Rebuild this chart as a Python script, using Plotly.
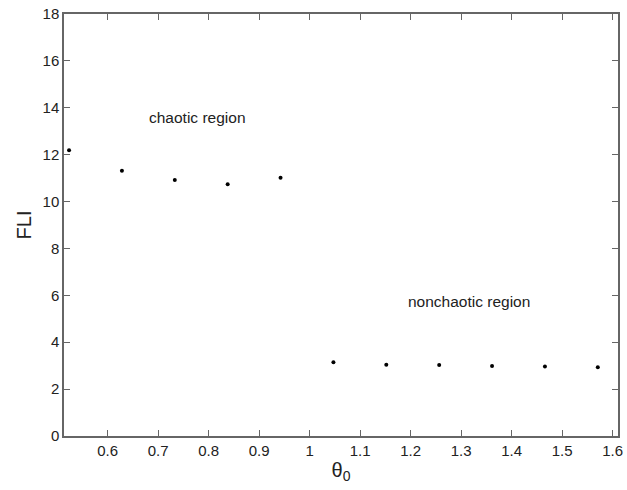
import math
import plotly.graph_objects as go

# initial angle theta_0 (rad) and fast Lyapunov indicator
theta0 = [math.pi / 6 + k * math.pi / 30 for k in range(11)]
fli = [12.19, 11.31, 10.92, 10.74, 11.02, 3.15, 3.04, 3.03, 2.99, 2.96, 2.93]

x_ticks = [0.6, 0.7, 0.8, 0.9, 1.0, 1.1, 1.2, 1.3, 1.4, 1.5, 1.6]
x_tick_text = ["0.6", "0.7", "0.8", "0.9", "1", "1.1", "1.2", "1.3", "1.4", "1.5", "1.6"]
y_ticks = [0, 2, 4, 6, 8, 10, 12, 14, 16, 18]

fig = go.Figure()
fig.add_trace(go.Scatter(
    x=theta0, y=fli, mode="markers",
    marker=dict(color="black", size=4),
    showlegend=False,
))

fig.add_annotation(x=0.777, y=13.57, text="chaotic region", showarrow=False,
                   font=dict(size=15.5, color="#222"))
fig.add_annotation(x=1.315, y=5.72, text="nonchaotic region", showarrow=False,
                   font=dict(size=15.5, color="#222"))

axis_common = dict(
    showgrid=False, zeroline=False,
    showline=True, linecolor="#666", linewidth=1.5,
    ticks="inside", ticklen=6, tickcolor="#666", tickwidth=1,
    mirror="ticks",
    tickfont=dict(size=15, color="#222"),
)

fig.update_layout(
    width=627, height=490,
    margin=dict(l=64, r=4, t=14, b=54),
    paper_bgcolor="white", plot_bgcolor="white",
    font=dict(family="Liberation Sans, Arial, sans-serif", color="#222"),
    xaxis=dict(range=[0.5136, 1.6108], tickvals=x_ticks, ticktext=x_tick_text,
               title=dict(text="θ<sub>0</sub>", font=dict(size=20), standoff=3),
               **axis_common),
    yaxis=dict(range=[0, 18], tickvals=y_ticks,
               title=dict(text="FLI", font=dict(size=20), standoff=6),
               **axis_common),
)

fig.write_html("out.html")
